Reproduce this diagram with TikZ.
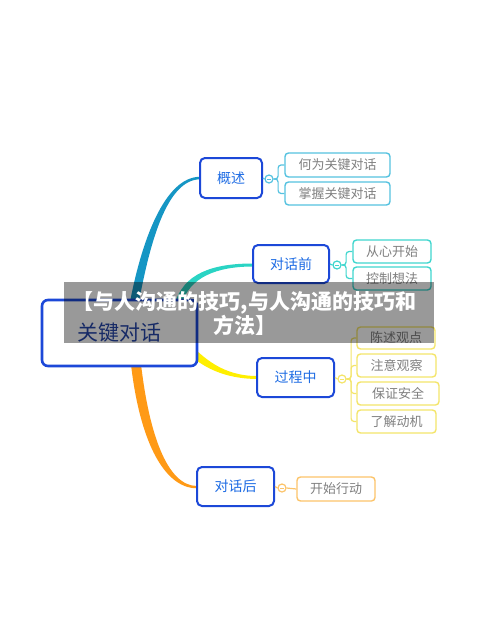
\documentclass[tikz,border=0pt]{standalone}
\usepackage{fontspec}
\newfontfamily\cjk{Noto Sans CJK SC}
\usetikzlibrary{calc}
\definecolor{nodeblue}{HTML}{1C48D8}
\definecolor{textblue}{HTML}{1E6CE4}
\definecolor{roottext}{HTML}{2646AA}
\definecolor{cA}{HTML}{1596C4}
\definecolor{cAl}{HTML}{55C2E0}
\definecolor{cB}{HTML}{2AD4C4}
\definecolor{cBl}{HTML}{3FD6CE}
\definecolor{cC}{HTML}{FFEF00}
\definecolor{cCl}{HTML}{F4E56A}
\definecolor{cD}{HTML}{FF9A16}
\definecolor{cDl}{HTML}{FCC46A}
\definecolor{leaftext}{HTML}{808080}
\tikzset{
  rootbox/.style={draw=nodeblue, line width=2.6pt, rounded corners=6pt, fill=white,
    minimum width=155pt, minimum height=66pt, inner sep=0pt, text=roottext,
    font=\cjk\fontsize{21}{24}\selectfont},
  branchbox/.style={draw=nodeblue, line width=2pt, rounded corners=5pt, fill=white,
    minimum height=39pt, inner sep=0pt, text=textblue,
    font=\cjk\fontsize{14}{16}\selectfont},
  leafbox/.style={line width=1.4pt, rounded corners=3.5pt, fill=white,
    minimum height=23pt, inner sep=0pt, text=leaftext,
    font=\cjk\fontsize{13}{15}\selectfont},
  toggle/.style={circle, draw, line width=1.2pt, fill=white, minimum size=8pt, inner sep=0pt,
    path picture={\draw[line width=0.6pt] ($(path picture bounding box.center)+(-1.8,0)$) -- ($(path picture bounding box.center)+(1.8,0)$);}},
  bracket/.style={line width=1.2pt, rounded corners=3pt},
}
\begin{document}
\begin{tikzpicture}[x=1pt,y=-1pt]
\useasboundingbox (0,0) rectangle (500,626);
\fill[white] (0,0) rectangle (500,626);

% tapered branches (drawn first, root covers their starts)
\fill[cA] (128.5,310) .. controls (141,240) and (165,176.8) .. (200,176.8)
  -- (200,179.3) .. controls (167,179.6) and (149.5,242) .. (137.5,310) -- cycle;
\fill[cB] (174.5,305) .. controls (183,273) and (213,263.5) .. (253,263.5)
  -- (253,266.5) .. controls (217,266.5) and (189,277) .. (181.5,305) -- cycle;
\fill[cC] (187.8,342.2) .. controls (203,357) and (222,376) .. (257,376)
  -- (257,379) .. controls (218,378.5) and (197,363) .. (182.2,347.8) -- cycle;
\fill[cD] (130,355) .. controls (138,438) and (163,488.3) .. (197,488.3)
  -- (197,486) .. controls (167,486) and (148,433) .. (140,355) -- cycle;

% root
\node[rootbox] (root) at (119.5,333) {关键对话};

% branch nodes
\node[branchbox, minimum width=62pt, minimum height=40pt] (gs) at (231,178) {概述};
\node[branchbox, minimum width=76pt, minimum height=38pt] (qian) at (291,264) {对话前};
\node[branchbox, minimum width=77pt] (zhong) at (295.5,377.5) {过程中};
\node[branchbox, minimum width=77pt] (hou) at (235.5,486.5) {对话后};

% leaves
\node[leafbox, draw=cAl, minimum width=105pt, minimum height=24pt] (a1) at (337.5,165) {何为关键对话};
\node[leafbox, draw=cAl, minimum width=105pt] (a2) at (337.5,193.5) {掌握关键对话};
\node[leafbox, draw=cBl, minimum width=78pt] (b1) at (392,251.5) {从心开始};
\node[leafbox, draw=cBl, minimum width=78pt] (b2) at (392,278.5) {控制想法};
\node[leafbox, draw=cCl, minimum width=78pt, minimum height=22pt] (c1) at (396,338) {陈述观点};
\node[leafbox, draw=cCl, minimum width=79pt] (c2) at (396.5,365.5) {注意观察};
\node[leafbox, draw=cCl, minimum width=82pt] (c3) at (398,393.5) {保证安全};
\node[leafbox, draw=cCl, minimum width=79pt] (c4) at (396.5,421.5) {了解动机};
\node[leafbox, draw=cDl, minimum width=78pt, minimum height=24pt] (d1) at (336,489) {开始行动};

% toggles
\node[toggle, draw=cAl] (ta) at (269,179) {};
\node[toggle, draw=cBl] (tb) at (337,265) {};
\node[toggle, draw=cCl] (tc) at (342,379) {};
\node[toggle, draw=cDl] (td) at (282,488) {};

\draw[cAl, line width=1.2pt] (gs.east) -- (ta.west);
\draw[cBl, line width=1.2pt] (qian.east) -- (tb.west);
\draw[cCl, line width=1.2pt] (zhong.east) -- (tc.west);
\draw[cDl, line width=1.2pt] (hou.east) -- (td.west);

\draw[bracket, cAl] (ta.east) -- ++(4.5,0) |- (a1.west);
\draw[bracket, cAl] (ta.east) -- ++(4.5,0) |- (a2.west);
\draw[bracket, cBl] (tb.east) -- ++(4.5,0) |- (b1.west);
\draw[bracket, cBl] (tb.east) -- ++(4.5,0) |- (b2.west);
\draw[bracket, cCl] (tc.east) -- ++(4.5,0) |- (c1.west);
\draw[bracket, cCl] (tc.east) -- ++(4.5,0) |- (c2.west);
\draw[bracket, cCl] (tc.east) -- ++(4.5,0) |- (c3.west);
\draw[bracket, cCl] (tc.east) -- ++(4.5,0) |- (c4.west);
\draw[bracket, cDl] (td.east) -- (d1.west);

% overlay band
\fill[black, opacity=0.4] (64,282) rectangle (434,343);
\node[text=white, font=\cjk\bfseries\fontsize{21}{23}\selectfont, align=center, inner sep=0pt] (title) at (244.5,313.5)
  {【与人沟通的技巧,与人沟通的技巧和\\方法】};
\end{tikzpicture}
\end{document}
